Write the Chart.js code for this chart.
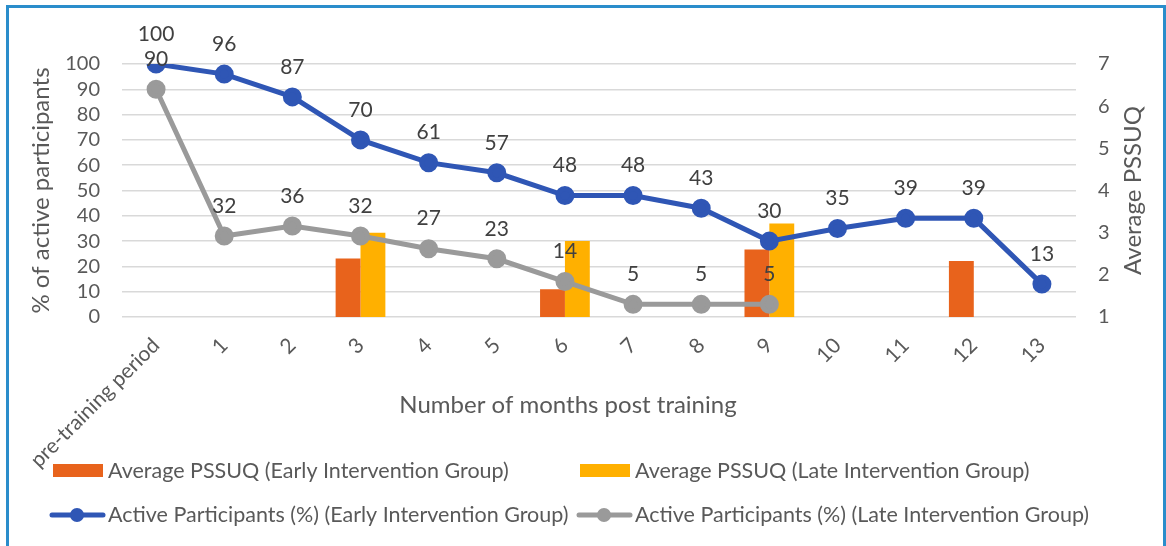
<!DOCTYPE html>
<html>
<head>
<meta charset="utf-8">
<script src="https://cdn.jsdelivr.net/npm/chart.js@4.4.0/dist/chart.umd.min.js"></script>
<style>
  body { margin: 0; background: #fff; overflow: hidden; }
  #wrap { position: relative; width: 1166px; height: 546px; overflow: hidden; }
  #frame { position: absolute; left: 6px; top: 5px; width: 1154px; height: 600px; border: 3px solid #2a8dcb; }
  canvas { position: absolute; left: 0; top: 0; }
</style>
</head>
<body>
<div id="wrap">
  <canvas id="chart" width="1166" height="546"></canvas>
  <div id="frame"></div>
</div>
<script>
// months after training
const months = ['pre-training period', '1', '2', '3', '4', '5', '6', '7', '8', '9', '10', '11', '12', '13'];

// % of active participants
const activeEarly = [100, 96, 87, 70, 61, 57, 48, 48, 43, 30, 35, 39, 39, 13];
const activeLate = [90, 32, 36, 32, 27, 23, 14, 5, 5, 5, null, null, null, null];

// average PSSUQ score (right axis)
const pssuqEarly = [null, null, null, 2.39, null, null, 1.66, null, null, 2.6, null, null, 2.33, null];
const pssuqLate = [null, null, null, 3.0, null, null, 2.8, null, null, 3.22, null, null, null, null];

const FONT = 'Lato, "Open Sans", sans-serif';
const grey = '#595959';

// value labels above the line points
const pointLabels = {
    id: 'pointLabels',
    afterDatasetsDraw(chart) {
        const ctx = chart.ctx;
        ctx.save();
        ctx.font = '21px ' + FONT;
        ctx.fillStyle = '#404040';
        ctx.textAlign = 'center';
        ctx.textBaseline = 'middle';
        chart.data.datasets.forEach((ds, i) => {
            if (ds.type !== 'line') return;
            chart.getDatasetMeta(i).data.forEach((pt, j) => {
                if (ds.data[j] == null) return;
                ctx.fillText(ds.data[j], pt.x, pt.y - 30);
            });
        });
        ctx.restore();
    }
};

// x title, right title (reads upwards) + two column legend like the excel one
const extraText = {
    id: 'extraText',
    afterDraw(chart) {
        const ctx = chart.ctx;
        const area = chart.chartArea;
        ctx.save();
        ctx.fillStyle = grey;
        ctx.font = '24px ' + FONT;
        ctx.textAlign = 'center';
        ctx.textBaseline = 'middle';
        ctx.fillText('Number of months post training', 568, 405);

        ctx.save();
        ctx.translate(1133, (area.top + area.bottom) / 2);
        ctx.rotate(-Math.PI / 2);
        ctx.fillText('Average PSSUQ', 0, 0);
        ctx.restore();

        const cols = [50, 577];
        const rows = [471, 515];
        ctx.font = '21.5px ' + FONT;
        ctx.textAlign = 'left';
        chart.data.datasets.forEach((ds, i) => {
            const x = cols[i % 2];
            const y = rows[Math.floor(i / 2)];
            if (ds.type === 'bar') {
                ctx.fillStyle = ds.backgroundColor;
                ctx.fillRect(x + 3, y - 7, 50, 13);
            } else {
                ctx.strokeStyle = ds.borderColor;
                ctx.lineWidth = 5;
                ctx.lineCap = 'round';
                ctx.beginPath();
                ctx.moveTo(x + 2, y);
                ctx.lineTo(x + 53, y);
                ctx.stroke();
                ctx.fillStyle = ds.borderColor;
                ctx.beginPath();
                ctx.arc(x + 27, y, 7, 0, Math.PI * 2);
                ctx.fill();
            }
            ctx.fillStyle = grey;
            ctx.fillText(ds.label, x + 58, y);
        });
        ctx.restore();
    }
};

new Chart(document.getElementById('chart'), {
    data: {
        labels: months,
        datasets: [
            {
                type: 'bar',
                label: 'Average PSSUQ (Early Intervention Group)',
                data: pssuqEarly,
                backgroundColor: '#e8631c',
                yAxisID: 'yR',
                order: 2,
                barPercentage: 1,
                categoryPercentage: 0.73
            },
            {
                type: 'bar',
                label: 'Average PSSUQ (Late Intervention Group)',
                data: pssuqLate,
                backgroundColor: '#ffb000',
                yAxisID: 'yR',
                order: 2,
                barPercentage: 1,
                categoryPercentage: 0.73
            },
            {
                type: 'line',
                label: 'Active Participants (%) (Early Intervention Group)',
                data: activeEarly,
                borderColor: '#2f56b5',
                backgroundColor: '#2f56b5',
                borderWidth: 5,
                pointRadius: 7,
                pointHoverRadius: 7,
                yAxisID: 'y',
                order: 1
            },
            {
                type: 'line',
                label: 'Active Participants (%) (Late Intervention Group)',
                data: activeLate,
                borderColor: '#9a9a9a',
                backgroundColor: '#9a9a9a',
                borderWidth: 5,
                pointRadius: 7,
                pointHoverRadius: 7,
                yAxisID: 'y',
                order: 1
            }
        ]
    },
    options: {
        responsive: false,
        animation: false,
        layout: { padding: { top: 64, left: 0, right: 0, bottom: 0 } },
        plugins: {
            legend: { display: false },
            tooltip: { enabled: false }
        },
        scales: {
            x: {
                grid: { display: false },
                border: { display: false },
                ticks: {
                    color: grey,
                    font: { family: FONT, size: 21 },
                    minRotation: 45,
                    maxRotation: 45,
                    autoSkip: false,
                    padding: 8
                },
                afterFit(scale) { scale.height = 229; }
            },
            y: {
                position: 'left',
                min: 0,
                max: 100,
                ticks: { stepSize: 10, autoSkip: false, color: grey, font: { family: FONT, size: 20 }, padding: 22 },
                grid: { color: '#d9d9d9', lineWidth: 1.5, drawTicks: false },
                border: { display: false },
                title: {
                    display: true,
                    text: '% of active participants',
                    color: grey,
                    font: { family: FONT, size: 24 },
                    padding: { top: 27, bottom: 0 }
                },
                afterFit(scale) { scale.width = 122; }
            },
            yR: {
                position: 'right',
                min: 1,
                max: 7,
                ticks: { stepSize: 1, autoSkip: false, color: grey, font: { family: FONT, size: 20 }, padding: 22 },
                grid: { display: false, drawTicks: false },
                border: { display: false },
                afterFit(scale) { scale.width = 90; }
            }
        }
    },
    plugins: [pointLabels, extraText]
});
</script>
</body>
</html>
